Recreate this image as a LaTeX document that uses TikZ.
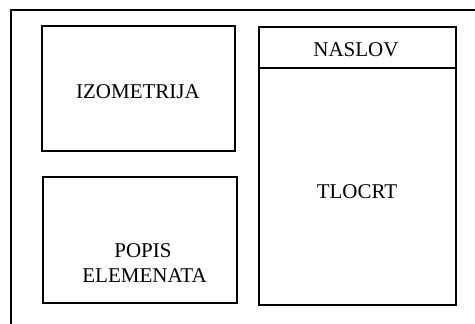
\documentclass[tikz,border=0pt]{standalone}
\usepackage{fontspec}
\setmainfont{Liberation Serif}
\begin{document}
\begin{tikzpicture}[x=1pt,y=-1pt,
  panel/.style={draw=black,line width=2pt,rectangle,inner sep=0pt,outer sep=0pt},
  caption/.style={anchor=base,inner sep=0pt,font=\fontsize{21}{25}\selectfont}]
  \useasboundingbox (0,0) rectangle (475,324);
  \clip (0,0) rectangle (475,324);
  % sheet border (continues past the right and bottom edges)
  \node[panel,minimum width=480pt,minimum height=330pt,anchor=north west] (sheet) at (11,10) {};
  % left column
  \node[panel,minimum width=193pt,minimum height=125pt] (izo) at (138.5,88.5) {};
  \node[panel,minimum width=194pt,minimum height=126pt] (popis) at (140,240) {};
  % right column: title strip over the plan
  \node[panel,minimum width=197pt,minimum height=278pt] (plan) at (357.5,166) {};
  \coordinate (divL) at (plan.west |- 0,68);
  \coordinate (divR) at (plan.east |- 0,68);
  \draw[line width=2pt] (divL) -- (divR);
  % labels
  \node[caption] (tIzo) at (138,98) {IZOMETRIJA};
  \node[caption] (tPopis) at (143,257) {POPIS};
  \node[caption] (tElem) at (144.5,282) {ELEMENATA};
  \node[caption] (tNaslov) at (356,56.7) {NASLOV};
  \node[caption] (tTlocrt) at (357,198.3) {TLOCRT};
\end{tikzpicture}
\end{document}
